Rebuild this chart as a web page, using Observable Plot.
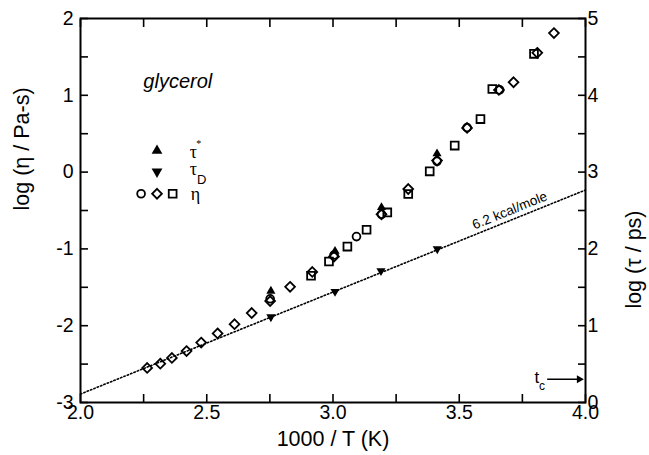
<!DOCTYPE html>
<html><head><meta charset="utf-8">
<script src="https://cdn.jsdelivr.net/npm/d3@7"></script>
<script src="https://cdn.jsdelivr.net/npm/@observablehq/plot@0.6"></script>
<style>
html,body{margin:0;padding:0;background:#fff;}
#chart{width:649px;height:455px;}
</style></head>
<body><div id="chart"></div>
<script>
// η data (three datasets: circles, diamonds, squares) in log(η / Pa-s)
const diamondX = [2.264,2.316,2.362,2.42,2.478,2.543,2.61,2.678,2.751,2.83,2.918,3.004,3.192,3.298,3.412,3.531,3.657,3.715,3.809,3.875];
const diamondY = [-2.55,-2.494,-2.42,-2.33,-2.22,-2.10,-1.98,-1.835,-1.68,-1.494,-1.30,-1.10,-0.55,-0.22,0.15,0.575,1.07,1.17,1.553,1.81];
const circleX = [2.751,3.004,3.093,3.192,3.412,3.531,3.66];
const circleY = [-1.65,-1.08,-0.84,-0.55,0.14,0.58,1.07];
const squareX = [2.913,2.984,3.057,3.133,3.215,3.298,3.383,3.482,3.584,3.631,3.796];
const squareY = [-1.35,-1.165,-0.97,-0.75,-0.525,-0.286,0.01,0.345,0.69,1.083,1.54];
// τ* (up triangles) and τ_D (down triangles)
const tauStarX = [2.754,3.008,3.192,3.412];
const tauStarY = [-1.55,-1.03,-0.46,0.24];
const tauDX = [2.754,3.008,3.19,3.413];
const tauDY = [-1.885,-1.555,-1.285,-1.0];
// Arrhenius line (6.2 kcal/mole)
const fitX = [2.0,4.0];
const fitY = [-2.89,-0.233];
// axes
const xTickLabels = [2.0,2.5,3.0,3.5,4.0];
const xTicks = [2.0,2.25,2.5,2.75,3.0,3.25,3.5,3.75,4.0];
const yTickLabels = [-3,-2,-1,0,1,2];
const yTicks = [-3,-2.5,-2,-1.5,-1,-0.5,0,0.5,1,1.5,2];
const rightOffset = 3; // log(τ/ps) = log(η/Pa-s) + 3

const zip = (xs, ys) => xs.map((x,i) => ({x, y: ys[i]}));

const triDown = {draw(ctx, size){const y=-Math.sqrt(size/(Math.sqrt(3)*3)); ctx.moveTo(0,-y*2); ctx.lineTo(-Math.sqrt(3)*y,y); ctx.lineTo(Math.sqrt(3)*y,y); ctx.closePath();}};
const triRight = {draw(ctx, size){const y=-Math.sqrt(size/(Math.sqrt(3)*3)); ctx.moveTo(-y*2,0); ctx.lineTo(y,-Math.sqrt(3)*y); ctx.lineTo(y,Math.sqrt(3)*y); ctx.closePath();}};

const serif = "Liberation Serif, Times New Roman, serif";
const sans = "Liberation Sans, Arial, Helvetica, sans-serif";

const chart = Plot.plot({
  width: 649, height: 455,
  marginLeft: 80, marginRight: 64, marginTop: 18, marginBottom: 53,
  style: {fontFamily: sans, fontSize: "19px", background: "white", color: "black"},
  x: {domain: [2,4], axis: null},
  y: {domain: [-3,2], axis: null},
  marks: [
    // dotted fit line
    Plot.line(zip(fitX, fitY), {x:"x", y:"y", stroke:"black", strokeWidth:1.6, strokeDasharray:"1.4,2.2"}),
    Plot.text(["6.2 kcal/mole"], {x: 3.70, y: -0.50, rotate: -22, fontSize: 13.5, fill: "black"}),
    // η data
    Plot.dot(zip(squareX, squareY), {x:"x", y:"y", symbol:"square", r:4.4, stroke:"black", strokeWidth:1.8, fill:"none"}),
    Plot.dot(zip(diamondX, diamondY), {x:"x", y:"y", symbol:"diamond2", r:4.4, stroke:"black", strokeWidth:1.8, fill:"none"}),
    Plot.dot(zip(circleX, circleY), {x:"x", y:"y", symbol:"circle", r:3.9, stroke:"black", strokeWidth:1.8, fill:"none"}),
    Plot.dot(zip(tauStarX, tauStarY), {x:"x", y:"y", symbol:"triangle", r:3.4, fill:"black", stroke:"none"}),
    Plot.dot(zip(tauDX, tauDY), {x:"x", y:"y", symbol:triDown, r:3.4, fill:"black", stroke:"none"}),
    // legend
    Plot.dot([{x:2.303,y:0.279}], {x:"x", y:"y", symbol:"triangle", r:4, fill:"black"}),
    Plot.dot([{x:2.303,y:0.005}], {x:"x", y:"y", symbol:triDown, r:4, fill:"black"}),
    Plot.dot([{x:2.240,y:-0.282}], {x:"x", y:"y", symbol:"circle", r:3.9, stroke:"black", strokeWidth:1.8, fill:"none"}),
    Plot.dot([{x:2.303,y:-0.282}], {x:"x", y:"y", symbol:"diamond2", r:4.4, stroke:"black", strokeWidth:1.8, fill:"none"}),
    Plot.dot([{x:2.365,y:-0.282}], {x:"x", y:"y", symbol:"square", r:4.4, stroke:"black", strokeWidth:1.8, fill:"none"}),
    Plot.text(["τ"], {x:2.447, y:0.253, fontFamily: serif, fontSize:18, fill:"black"}),
    Plot.text(["*"], {x:2.468, y:0.37, fontFamily: serif, fontSize:10, fill:"black"}),
    Plot.text(["τ"], {x:2.447, y:0.04, fontFamily: serif, fontSize:18, fill:"black"}),
    Plot.text(["D"], {x:2.480, y:-0.10, fontSize:13, fill:"black"}),
    Plot.text(["η"], {x:2.455, y:-0.29, fontFamily: serif, fontSize:18, fill:"black"}),
    Plot.text(["glycerol"], {x:2.249, y:1.172, textAnchor:"start", fontStyle:"italic", fontSize:20, fill:"black"}),
    // t_c arrow
    Plot.ruleY([-2.698], {x1: 3.85, x2: 3.985, stroke:"black", strokeWidth:1.5}),
    Plot.dot([{x:3.975, y:-2.698}], {x:"x", y:"y", symbol: triRight, r:3, fill:"black"}),
    Plot.text(["t"], {x:3.807, y:-2.68, fontSize:17, fill:"black"}),
    Plot.text(["c"], {x:3.828, y:-2.79, fontSize:12, fill:"black"}),
    // frame & axes
    Plot.frame({stroke:"black", strokeWidth:2}),
    Plot.axisX({anchor:"bottom", ticks: xTicks, tickSize:-8, tickFormat: () => "", label:null, strokeWidth:1.6}),
    Plot.axisX({anchor:"top", ticks: xTicks, tickSize:-8, tickFormat: () => "", label:null, strokeWidth:1.6}),
    Plot.axisY({anchor:"left", ticks: yTicks, tickSize:-8, tickFormat: () => "", label:null, strokeWidth:1.6}),
    Plot.axisY({anchor:"right", ticks: yTicks, tickSize:-8, tickFormat: () => "", label:null, strokeWidth:1.6}),
    Plot.axisX({anchor:"bottom", ticks: xTickLabels, tickSize:0, tickPadding:3, tickFormat: d3.format(".1f"), label:null, fontSize:19.5}),
    Plot.axisY({anchor:"left", ticks: yTickLabels, tickSize:0, tickPadding:7, tickFormat: d => d, label:null, fontSize:19.5}),
    Plot.axisY({anchor:"right", ticks: yTickLabels, tickSize:0, tickPadding:2, tickFormat: d => d + rightOffset, label:null, fontSize:19.5}),
    // axis titles
    Plot.text(["1000 / T (K)"], {frameAnchor:"bottom", dy:43, fontSize:21.5, fill:"black"}),
    Plot.text(["log (η / Pa-s)"], {frameAnchor:"left", dx:-58, rotate:-90, fontSize:21.5, fill:"black"}),
    Plot.text(["log (τ / ps)"], {frameAnchor:"right", dx:49, rotate:-90, fontSize:21.5, fill:"black"})
  ]
});
document.getElementById("chart").appendChild(chart);
</script></body></html>
